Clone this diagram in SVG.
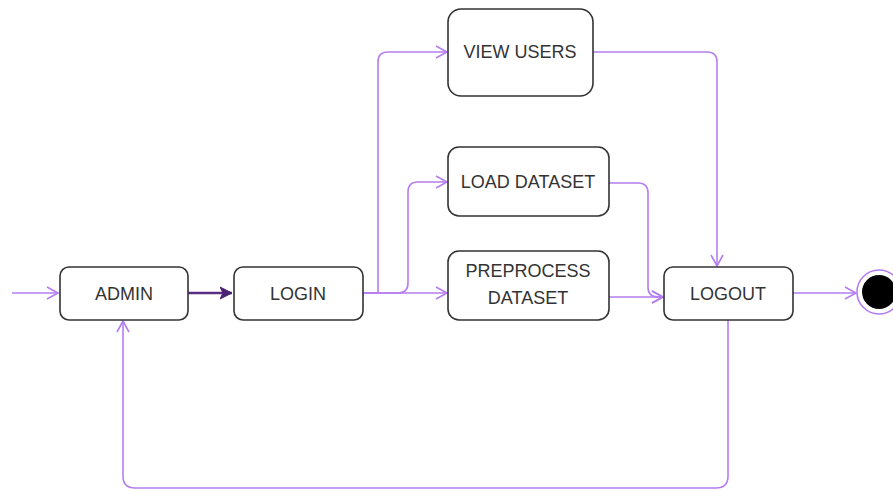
<svg xmlns="http://www.w3.org/2000/svg" width="893" height="491" viewBox="0 0 893 491">
  <style>
    .box { fill: #ffffff; stroke: #333333; stroke-width: 1.6; }
    .lbl { font-family: "Liberation Sans", Arial, sans-serif; font-size: 18px; fill: #333333; text-anchor: middle; dominant-baseline: central; }
    .flow { fill: none; stroke: #b57ef0; stroke-width: 1.6; }
    .main { fill: none; stroke: #5b2d86; stroke-width: 2.4; }
  </style>
  <defs>
    <marker id="open" markerWidth="14" markerHeight="14" refX="12" refY="7" orient="auto" markerUnits="userSpaceOnUse">
      <path d="M1,1 L12,7 L1,13" fill="none" stroke="#b57ef0" stroke-width="1.6"/>
    </marker>
    <marker id="solid" markerWidth="14" markerHeight="14" refX="12" refY="7" orient="auto" markerUnits="userSpaceOnUse">
      <path d="M0,1 L12,7 L0,13 L3,7 Z" fill="#4a2370" stroke="#4a2370" stroke-width="1"/>
    </marker>
  </defs>

  <g id="connectors">
    <!-- initial entry -->
    <path class="flow" d="M12,293 H58" marker-end="url(#open)"/>
    <!-- admin to login -->
    <path class="main" d="M188,293 H232" marker-end="url(#solid)"/>
    <!-- login branches -->
    <path class="flow" d="M363,293 H378 V62 Q378,52 388,52 H447" marker-end="url(#open)"/>
    <path class="flow" d="M363,293 H398 Q408,293 408,283 V192 Q408,182 418,182 H447" marker-end="url(#open)"/>
    <path class="flow" d="M363,293 H447" marker-end="url(#open)"/>
    <!-- into logout -->
    <path class="flow" d="M593,52 H707 Q717,52 717,62 V266" marker-end="url(#open)"/>
    <path class="flow" d="M609,183 H638 Q648,183 648,193 V287 Q648,297 658,297 H663" marker-end="url(#open)"/>
    <path class="flow" d="M609,297 H663" marker-end="url(#open)"/>
    <!-- logout to final -->
    <path class="flow" d="M793,293 H856" marker-end="url(#open)"/>
    <!-- logout back to admin -->
    <path class="flow" d="M728,320 V476 Q728,488 716,488 H135 Q123,488 123,476 V321" marker-end="url(#open)"/>
  </g>

  <g id="admin">
    <rect class="box" x="60" y="267" width="128" height="53" rx="9"/>
    <text class="lbl" x="124" y="294">ADMIN</text>
  </g>
  <g id="login">
    <rect class="box" x="234" y="267" width="129" height="53" rx="9"/>
    <text class="lbl" x="298" y="294">LOGIN</text>
  </g>
  <g id="view-users">
    <rect class="box" x="448" y="9" width="145" height="87" rx="13"/>
    <text class="lbl" x="520" y="52">VIEW USERS</text>
  </g>
  <g id="load-dataset">
    <rect class="box" x="448" y="147" width="161" height="69" rx="11"/>
    <text class="lbl" x="528" y="182">LOAD DATASET</text>
  </g>
  <g id="preprocess-dataset">
    <rect class="box" x="448" y="251" width="161" height="69" rx="11"/>
    <text class="lbl" x="528" y="271">PREPROCESS</text>
    <text class="lbl" x="528" y="298">DATASET</text>
  </g>
  <g id="logout">
    <rect class="box" x="664" y="267" width="129" height="53" rx="9"/>
    <text class="lbl" x="728" y="294">LOGOUT</text>
  </g>
  <g id="final">
    <circle cx="879" cy="292" r="22" fill="#ffffff" stroke="#b57ef0" stroke-width="1.6"/>
    <circle cx="879" cy="292" r="17" fill="#000000"/>
  </g>
</svg>
